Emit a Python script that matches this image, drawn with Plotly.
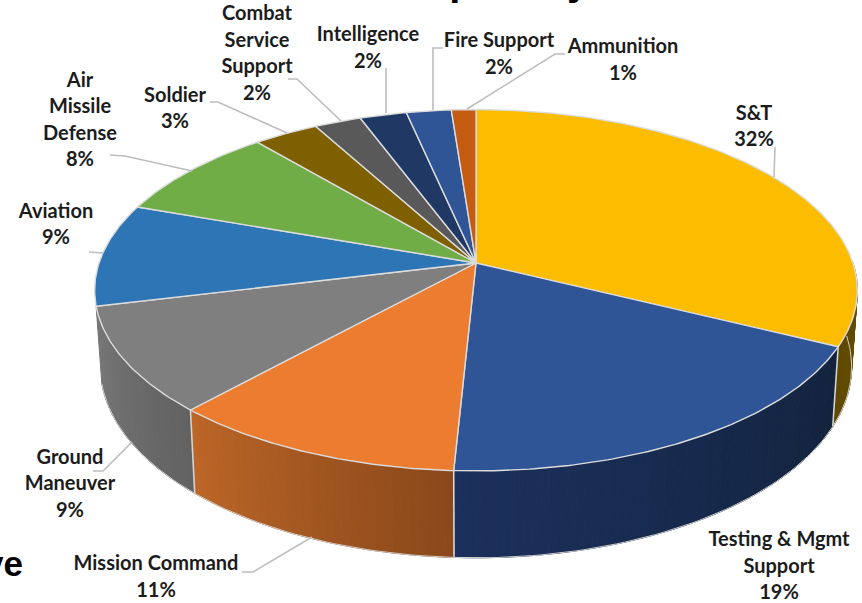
import numpy as np
import plotly.graph_objects as go

# ---------- data ----------
categories = ["S&T", "Testing & Mgmt Support", "Mission Command", "Ground Maneuver",
              "Aviation", "Air Missile Defense", "Soldier", "Combat Service Support",
              "Intelligence", "Fire Support", "Ammunition"]
values = [32.3, 18.5, 10.95, 9.45, 9.2, 8.4, 3.2, 2.3, 2.3, 2.2, 1.2]
percent_labels = ["32%", "19%", "11%", "9%", "9%", "8%", "3%", "2%", "2%", "2%", "1%"]
label_lines = [["S&T"], ["Testing & Mgmt", "Support"], ["Mission Command"],
               ["Ground", "Maneuver"], ["Aviation"], ["Air", "Missile", "Defense"],
               ["Soldier"], ["Combat", "Service", "Support"], ["Intelligence"],
               ["Fire Support"], ["Ammunition"]]

# ---------- styling and placement ----------
top_colors = ["#FCBD00", "#2F5597", "#EB7C30", "#7F7F7F", "#2E75B6", "#70AD47",
              "#7F6000", "#595959", "#1F3864", "#2F5597", "#C55A11"]
wall_colors = {0: ("#6A5000", "#5F4800"), 1: ("#13233D", "#1B305C"),
               2: ("#8A481B", "#BC6627"), 3: ("#626262", "#777777")}
label_pos = [(754, 114.5), (779, 541), (156, 565), (70, 458.5), (56, 212.5), (80, 81.5),
             (175, 96.5), (257, 15), (368, 36), (499, 42), (623, 48)]
line_step = 26.6
leaders = [[(775, 147), (774, 177)],
           [],
           [(242, 572), (253, 572), (312, 537)],
           [(93, 471), (103, 471), (132, 442)],
           [(89, 252), (103, 253)],
           [(110, 155), (125, 156), (192, 171)],
           [(210, 102), (218, 102), (287, 133)],
           [(288, 79), (297, 79), (341, 121)],
           [(386, 68), (386, 113)],
           [(443, 48), (433, 48), (433, 110)],
           [(565, 54), (555, 54), (467, 109)]]

CX, CY = 476.0, 263.0     # hub of the top face
A, B, K = 377.0, 176.6, 0.1507  # projection of the unit circle
DEPTH, Y_STRETCH, X_SHRINK = 75.0, 1.057, 0.985


def top_xy(theta):
    u, v = np.sin(theta), np.cos(theta)
    w = 1 + K * v
    return CX + A * u / w, CY - B * v / w


def bottom_xy(theta):
    x, y = top_xy(theta)
    return CX + X_SHRINK * (x - CX), CY + DEPTH + Y_STRETCH * (y - CY)


def lerp_hex(c0, c1, t):
    a = [int(c0[i:i + 2], 16) for i in (1, 3, 5)]
    b = [int(c1[i:i + 2], 16) for i in (1, 3, 5)]
    return "rgb(%d,%d,%d)" % tuple(round(p + (q - p) * t) for p, q in zip(a, b))


edges = 2 * np.pi * np.concatenate([[0], np.cumsum(values)]) / sum(values)
fig = go.Figure()

# side walls, as narrow strips so the shading runs across each slice
for i, (c0, c1) in wall_colors.items():
    th0 = edges[i]
    if i == 0:
        th0 = edges[1] - 0.47
    steps = max(6, int((edges[i + 1] - th0) / 0.02))
    grid = np.linspace(th0, edges[i + 1], steps + 1)
    for j in range(steps):
        t = j / max(steps - 1, 1)
        a, b = grid[j], grid[j + 1]
        xt, yt = top_xy(np.array([a, b]))
        xb, yb = bottom_xy(np.array([b, a]))
        col = lerp_hex(c0, c1, t)
        fig.add_trace(go.Scatter(x=list(xt) + list(xb) + [xt[0]], y=list(yt) + list(yb) + [yt[0]],
                                 mode="lines", fill="toself", fillcolor=col,
                                 line=dict(color=col, width=1), hoverinfo="skip", showlegend=False))
    xr, yr = bottom_xy(grid)
    fig.add_trace(go.Scatter(x=xr, y=yr, mode="lines", line=dict(color="#cfcfcf", width=1),
                             hoverinfo="skip", showlegend=False))

# bright seams between the walls
for i in (0, 1, 2):
    xt, yt = top_xy(edges[i + 1])
    xb, yb = bottom_xy(edges[i + 1])
    fig.add_trace(go.Scatter(x=[xt, xb], y=[yt, yb], mode="lines",
                             line=dict(color="#d4d4d4", width=1.6),
                             hoverinfo="skip", showlegend=False))

# top face
for i, name in enumerate(categories):
    grid = np.linspace(edges[i], edges[i + 1], max(4, int((edges[i + 1] - edges[i]) / 0.01)))
    x, y = top_xy(grid)
    fig.add_trace(go.Scatter(x=[CX, *x, CX], y=[CY, *y, CY], mode="lines", fill="toself",
                             fillcolor=top_colors[i], line=dict(color="#dcdcdc", width=1.4),
                             name=name, hoverinfo="name", showlegend=False))

# leader lines
for path in leaders:
    if path:
        fig.add_trace(go.Scatter(x=[p[0] for p in path], y=[p[1] for p in path], mode="lines",
                                 line=dict(color="#bdbdbd", width=1.6),
                                 hoverinfo="skip", showlegend=False))

# data labels
tx, ty, tt = [], [], []
for i, lines in enumerate(label_lines):
    px, py = label_pos[i]
    for k, s in enumerate(lines + [percent_labels[i]]):
        tx.append(px)
        ty.append(py + k * line_step)
        tt.append(s)
fig.add_trace(go.Scatter(x=tx, y=ty, text=tt, mode="text", textposition="middle center",
                         cliponaxis=False,
                         textfont=dict(family="Lato", size=20, color="#1c1c1c", weight="bold"),
                         hoverinfo="skip", showlegend=False))

# fragments of the surrounding slide text, cut by the crop
fig.add_annotation(text="<b>Capability</b>", xref="paper", yref="paper", x=592 / 862, y=1,
                   xanchor="right", yanchor="bottom", yshift=-5, showarrow=False,
                   font=dict(family="Liberation Sans", size=40, color="#000"))
fig.add_annotation(text="<b>ve</b>", xref="paper", yref="paper", x=25 / 862, y=1 - 563 / 603,
                   xanchor="right", yanchor="middle", showarrow=False,
                   font=dict(family="Liberation Sans", size=35, color="#000"))

fig.update_layout(width=862, height=603, margin=dict(l=0, r=0, t=0, b=0),
                  paper_bgcolor="white", plot_bgcolor="white", showlegend=False,
                  xaxis=dict(range=[0, 862], visible=False, fixedrange=True),
                  yaxis=dict(range=[603, 0], visible=False, fixedrange=True))
fig.write_html("out.html", config={"displayModeBar": False},
               post_script="document.body.style.margin='0';document.body.style.overflow='hidden';")
